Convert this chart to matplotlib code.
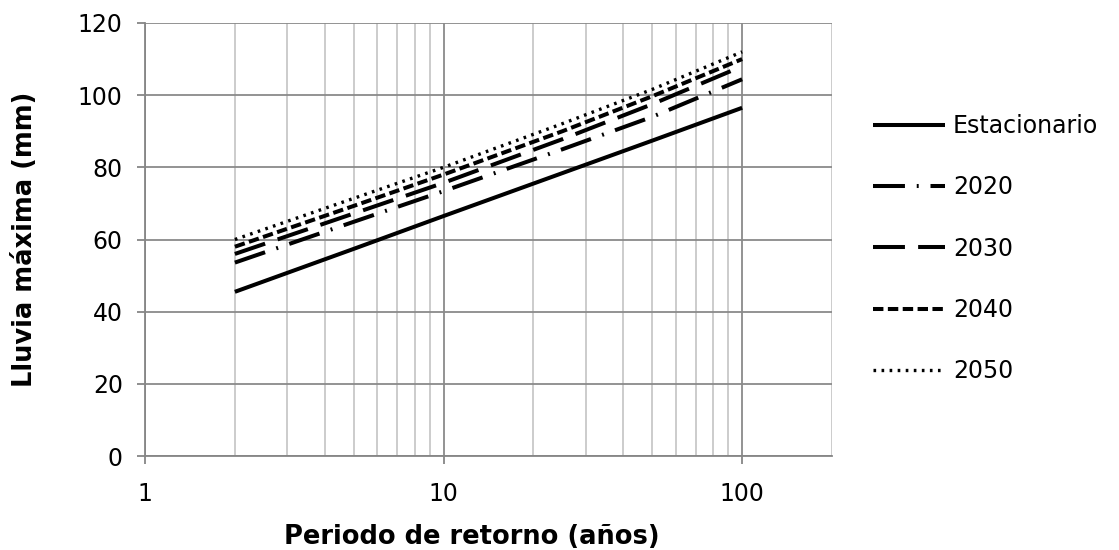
import matplotlib
matplotlib.use("Agg")
import matplotlib.pyplot as plt

# Return periods (years) and maximum rainfall (mm)
periodos = [2, 5, 10, 25, 50, 100]
estacionario = [45.5, 57.4, 66.5, 78.4, 87.4, 96.5]
p2020 = [53.6, 64.9, 73.4, 85.0, 94.0, 104.4]
p2030 = [56.0, 67.2, 75.7, 87.8, 97.5, 108.0]
p2040 = [58.0, 69.3, 78.0, 90.0, 99.7, 110.0]
p2050 = [60.0, 71.4, 80.0, 92.1, 101.6, 112.0]

plt.rcParams['font.family'] = ['DejaVu Sans']
plt.rcParams['lines.scale_dashes'] = False

fig = plt.figure(figsize=(11.19, 5.5), dpi=100)
ax = fig.add_axes([145 / 1119, 1 - 456 / 550, 687 / 1119, 433 / 550])

ax.plot(periodos, estacionario, color='black', lw=2.9, solid_capstyle='butt',
        label='Estacionario')
ax.plot(periodos, p2020, color='black', lw=2.9, linestyle=(0, (23, 8.5, 1.4, 8.5)),
        dash_capstyle='butt', label='2020')
ax.plot(periodos, p2030, color='black', lw=2.9, linestyle=(0, (23, 9.5)),
        dash_capstyle='butt', label='2030')
ax.plot(periodos, p2040, color='black', lw=2.9, linestyle=(0, (7.5, 3.2)),
        dash_capstyle='butt', label='2040')
ax.plot(periodos, p2050, color='black', lw=2.4, linestyle=(0, (1.9, 3.9)),
        dash_capstyle='butt', label='2050')

ax.set_xscale('log')
ax.set_xlim(1, 200)
ax.set_ylim(0, 120)
ax.set_yticks(range(0, 121, 20))
ax.set_xticks([1, 10, 100])
ax.set_xticklabels(['1', '10', '100'])

ax.grid(True, which='major', color='#8a8a8a', lw=1.3)
ax.grid(True, which='minor', axis='x', color='#c8c8c8', lw=1.3)
ax.set_axisbelow(True)

for s in ['top', 'right']:
    ax.spines[s].set_visible(False)
for s in ['left', 'bottom']:
    ax.spines[s].set_color('#868686')
    ax.spines[s].set_linewidth(1.3)

ax.tick_params(axis='y', which='major', length=6, width=1.3, color='#868686',
               labelsize=17, pad=10)
ax.tick_params(axis='x', which='major', length=6, width=1.3, color='#868686',
               labelsize=17, pad=13)
ax.tick_params(axis='x', which='minor', length=0)

ax.set_xlabel('Periodo de retorno (años)', fontsize=18.5, fontweight='bold')
ax.xaxis.set_label_coords(0.475, -0.186)
ax.xaxis.label.set_va('center')
ax.set_ylabel('Lluvia máxima (mm)', fontsize=18.5, fontweight='bold')
ax.yaxis.set_label_coords(-0.175, 0.5)
ax.yaxis.label.set_va('center')

fig.legend(loc='upper left', bbox_to_anchor=(873 / 1119, 1 - 114 / 550),
           frameon=False, fontsize=17, handlelength=3.05, handletextpad=0.34,
           labelspacing=1.58, borderpad=0, borderaxespad=0)

fig.savefig('out.png', dpi=100)
